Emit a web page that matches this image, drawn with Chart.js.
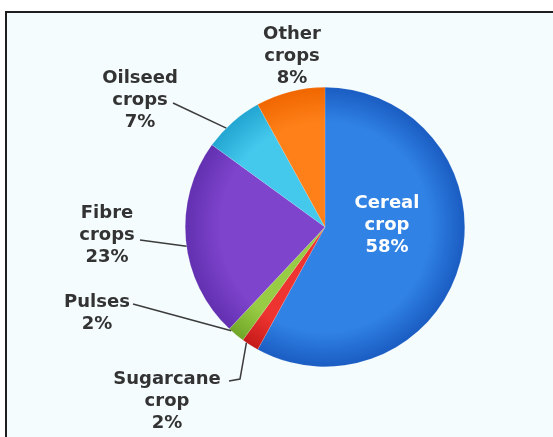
<!DOCTYPE html>
<html>
<head>
<meta charset="utf-8">
<script src="https://cdn.jsdelivr.net/npm/chart.js@4"></script>
<style>
    html, body { margin: 0; padding: 0; background: #fff; }
    #marco {
        position: absolute; left: 5px; top: 11px; right: 0; bottom: 0;
        border-top: 2px solid #1e1e1e; border-left: 2px solid #1e1e1e;
        background: #f5fcfd;
    }
    #contenedor { position: absolute; left: 0; top: 0; width: 553px; height: 437px; }
</style>
</head>
<body>
<div id="marco"></div>
<div id="contenedor"><canvas id="grafico"></canvas></div>
<script>
// --- Datos ---
const categorias = ["Cereal crop", "Sugarcane crop", "Pulses", "Fibre crops", "Oilseed crops", "Other crops"];
const porcentajes = [58, 2, 2, 23, 7, 8];
const etiquetas = [
    ["Cereal", "crop", "58%"],
    ["Sugarcane", "crop", "2%"],
    ["Pulses", "2%"],
    ["Fibre", "crops", "23%"],
    ["Oilseed", "crops", "7%"],
    ["Other", "crops", "8%"]
];

// --- Estilos ---
const coloresClaros = ["#3082e4", "#ee3430", "#98cc44", "#7e44cc", "#44c8ec", "#ff8018"];
const coloresOscuros = ["#1a5cc2", "#c41a1a", "#70a628", "#6230b0", "#22a6d2", "#f06600"];

// posicion del texto (centro) y del inicio de la linea guia
const disposicion = [
    { x: 387, y: 203, color: "#ffffff" },
    { x: 167, y: 379, guia: [[229, 381], [240, 379]], frac: 0.75 },
    { x: 97, y: 302, guia: [[133, 304]], frac: 0.85 },
    { x: 107, y: 213, guia: [[140, 240]], frac: 0.47 },
    { x: 140, y: 78, guia: [[173, 103]], frac: 0.36 },
    { x: 292, y: 34 }
];

function relleno(context) {
    const i = context.dataIndex;
    const area = context.chart.chartArea;
    if (!area || i === undefined) return coloresClaros[i || 0];
    const cx = (area.left + area.right) / 2, cy = (area.top + area.bottom) / 2;
    const r = Math.min(area.right - area.left, area.bottom - area.top) / 2;
    const g = context.chart.ctx.createRadialGradient(cx, cy, 0, cx, cy, r);
    g.addColorStop(0, coloresClaros[i]);
    g.addColorStop(0.75, coloresClaros[i]);
    g.addColorStop(1, coloresOscuros[i]);
    return g;
}

// --- Etiquetas ---
const pluginEtiquetas = {
    id: "etiquetas",
    afterDatasetsDraw(chart) {
        const ctx = chart.ctx;
        const arcos = chart.getDatasetMeta(0).data;
        ctx.save();
        ctx.font = "bold 18px 'DejaVu Sans'";
        ctx.textAlign = "center";
        ctx.textBaseline = "middle";
        etiquetas.forEach((lineas, i) => {
            const d = disposicion[i];
            if (d.guia) {
                const a = arcos[i];
                const ang = a.startAngle + (a.endAngle - a.startAngle) * d.frac;
                const px = a.x + Math.cos(ang) * a.outerRadius;
                const py = a.y + Math.sin(ang) * a.outerRadius;
                ctx.strokeStyle = "#3c3c3c";
                ctx.lineWidth = 1.5;
                ctx.beginPath();
                ctx.moveTo(d.guia[0][0], d.guia[0][1]);
                d.guia.slice(1).forEach(p => ctx.lineTo(p[0], p[1]));
                ctx.lineTo(px, py);
                ctx.stroke();
            }
            ctx.fillStyle = d.color || "#333333";
            lineas.forEach((t, k) => ctx.fillText(t, d.x, d.y + k * 22));
        });
        ctx.restore();
    }
};

// --- Principal ---
new Chart(document.getElementById("grafico"), {
    type: "pie",
    data: {
        labels: categorias,
        datasets: [{
            data: porcentajes,
            backgroundColor: relleno,
            borderColor: "rgba(255,255,255,0.25)",
            borderWidth: 0.5
        }]
    },
    options: {
        responsive: true,
        maintainAspectRatio: false,
        animation: false,
        layout: { padding: { left: 185, right: 88, top: 87, bottom: 70 } },
        plugins: {
            legend: { display: false },
            tooltip: { enabled: false }
        }
    },
    plugins: [pluginEtiquetas]
});
</script>
</body>
</html>
